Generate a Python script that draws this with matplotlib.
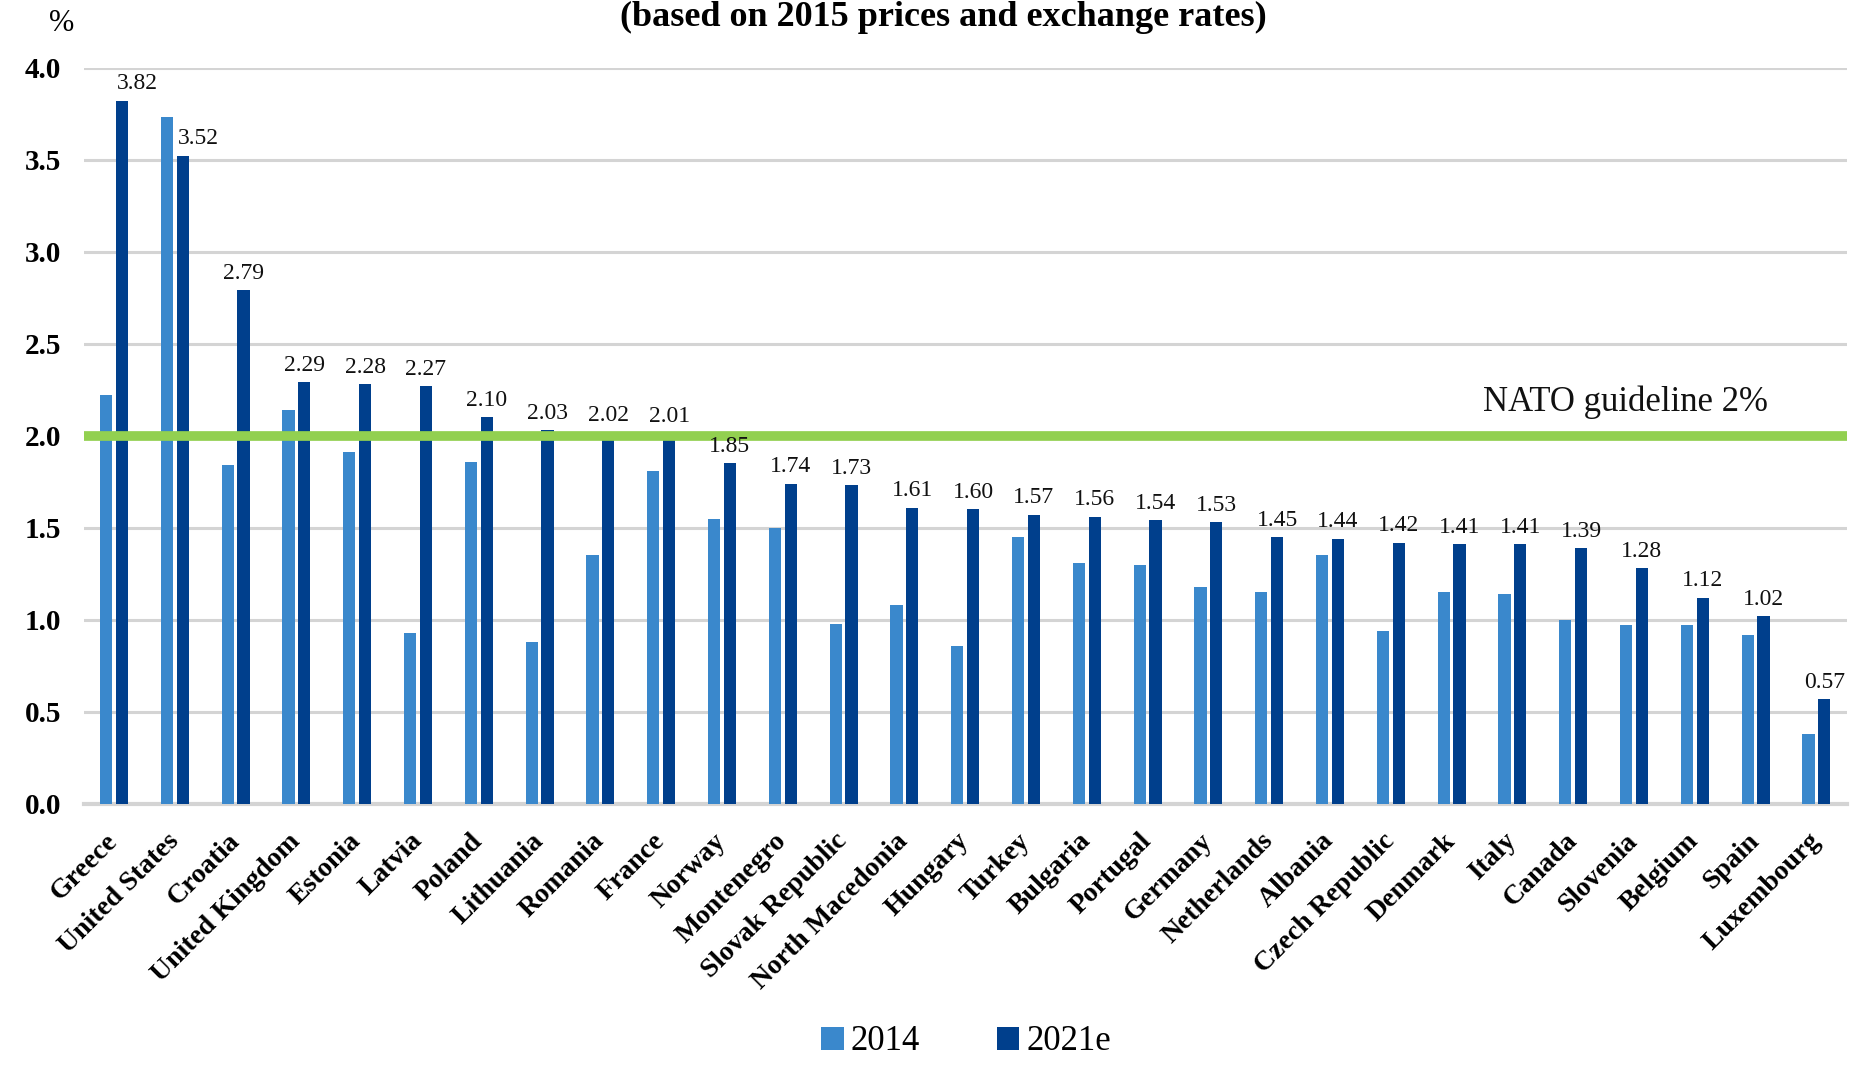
import matplotlib.pyplot as plt
import numpy as np

countries = ['Greece', 'United States', 'Croatia', 'United Kingdom', 'Estonia', 'Latvia',
             'Poland', 'Lithuania', 'Romania', 'France', 'Norway', 'Montenegro',
             'Slovak Republic', 'North Macedonia', 'Hungary', 'Turkey', 'Bulgaria',
             'Portugal', 'Germany', 'Netherlands', 'Albania', 'Czech Republic', 'Denmark',
             'Italy', 'Canada', 'Slovenia', 'Belgium', 'Spain', 'Luxembourg']
y2014 = [2.22, 3.73, 1.84, 2.14, 1.91, 0.93, 1.86, 0.88, 1.35, 1.81, 1.55, 1.50,
         0.98, 1.08, 0.86, 1.45, 1.31, 1.30, 1.18, 1.15, 1.35, 0.94, 1.15,
         1.14, 1.00, 0.97, 0.97, 0.92, 0.38]
y2021 = [3.82, 3.52, 2.79, 2.29, 2.28, 2.27, 2.10, 2.03, 2.02, 2.01, 1.85, 1.74,
         1.73, 1.61, 1.60, 1.57, 1.56, 1.54, 1.53, 1.45, 1.44, 1.42, 1.41,
         1.41, 1.39, 1.28, 1.12, 1.02, 0.57]
guideline = 2.0

light = '#3A88CC'
dark = '#003F8C'
green = '#92D050'

plt.rcParams['font.family'] = ['Liberation Serif', 'DejaVu Serif']

fig = plt.figure(figsize=(18.58, 10.72), dpi=100)
ax = fig.add_axes([0.045, 0.25, 0.949, 0.687])

x = np.arange(len(countries))
w = 0.2
ax.bar(x - 0.13, y2014, w, color=light, label='2014', zorder=3)
ax.bar(x + 0.13, y2021, w, color=dark, label='2021e', zorder=3)

for i, v in enumerate(y2021):
    dx = 0.25 if i < 2 else 0
    ax.text(x[i] + 0.13 + dx, v + 0.035, '%.2f' % v, ha='center', va='bottom',
            fontsize=17, color='#111111', zorder=6)

ax.axhline(guideline, color=green, lw=7, zorder=4)
ax.text(27.2, guideline + 0.09, 'NATO guideline 2%', ha='right', va='bottom',
        fontsize=25, color='#111111')

ax.set_xlim(-0.5, len(countries) - 0.5)
ax.set_ylim(0, 4.0)
ax.set_yticks(np.arange(0, 4.01, 0.5))
ax.set_yticklabels(['%.1f' % t for t in np.arange(0, 4.01, 0.5)], fontsize=21,
                   fontweight='bold')
ax.yaxis.grid(True, color='#D4D4D4', lw=2.2, zorder=0)
ax.set_xticks(x)
ax.set_xticklabels(countries, rotation=45, ha='right', va='center',
                   rotation_mode='anchor', fontsize=20, fontweight='bold')
ax.tick_params(axis='both', length=0)
ax.tick_params(axis='y', pad=16)
ax.tick_params(axis='x', pad=24)
for s in ['top', 'right', 'left']:
    ax.spines[s].set_visible(False)
ax.spines['bottom'].set_color('#D4D4D4')
ax.spines['bottom'].set_linewidth(3)

fig.text(0.033, 0.978, '%', fontsize=22, ha='center', va='center')
fig.text(0.508, 0.999, '(based on 2015 prices and exchange rates)', fontsize=26,
         fontweight='bold', ha='center', va='top')

fig.legend(loc='center', bbox_to_anchor=(0.52, 0.028), ncol=2, frameon=False,
           fontsize=25, handlelength=0.65, handleheight=0.65, columnspacing=2.2,
           handletextpad=0.2)

fig.savefig('out.png', dpi=100)
